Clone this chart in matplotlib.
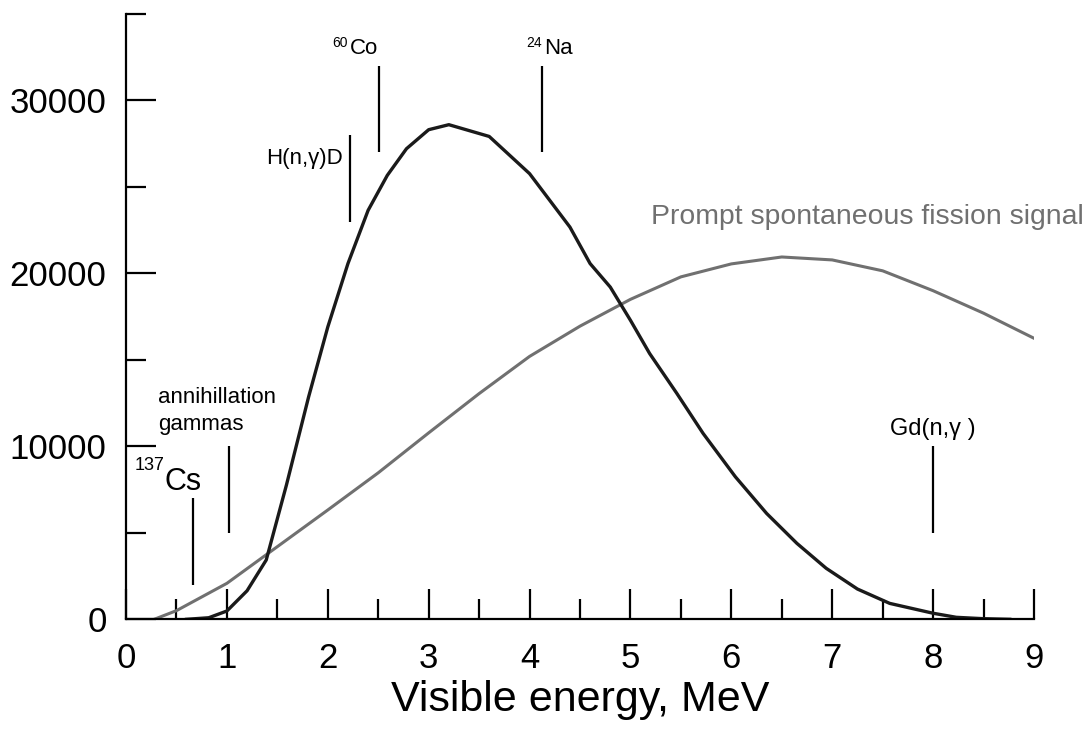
import numpy as np
import matplotlib
matplotlib.use('Agg')
import matplotlib.pyplot as plt
from matplotlib.ticker import MultipleLocator

plt.rcParams['font.family'] = ['Liberation Sans', 'DejaVu Sans']

# measured detector response (black) and prompt fission signal (grey)
E_resp = [0.60, 0.82, 1.0, 1.2, 1.39, 1.59, 1.81, 2.0, 2.2, 2.4, 2.59, 2.78, 3.0, 3.2, 3.6, 4.0,
          4.4, 4.6, 4.8, 5.0, 5.19, 5.46, 5.72, 6.04, 6.35, 6.65, 6.94, 7.25, 7.57, 8.0, 8.23, 8.5, 8.76]
N_resp = [0, 90, 480, 1650, 3430, 7760, 12860, 16900, 20570, 23650, 25670, 27210, 28310, 28600, 27920, 25770,
          22680, 20570, 19210, 17290, 15370, 13060, 10750, 8240, 6120, 4390, 2950, 1750, 920, 350, 115, 35, 0]

E_fis = [0.28, 0.5, 1.0, 1.5, 2.0, 2.5, 3.0, 3.5, 4.0, 4.5, 5.0, 5.5, 6.0, 6.5, 7.0, 7.5, 8.0, 8.5, 9.0]
N_fis = [0, 500, 2080, 4200, 6320, 8470, 10780, 13050, 15200, 16950, 18500, 19800, 20550, 20950, 20780, 20150,
         19000, 17700, 16250]

# calibration lines: energy, bottom, top
line_E = [0.662, 1.022, 2.224, 2.505, 4.12, 8.0]
line_lo = [2000, 5000, 23000, 27000, 27000, 5000]
line_hi = [7000, 10000, 28000, 32000, 32000, 10000]

fig = plt.figure(figsize=(10.88, 7.31), dpi=100)
ax = fig.add_axes([126/1088, (731-619.3)/731, 908/1088, (619.3-14)/731])

ax.plot(E_fis, N_fis, '-', color='#707070', lw=2.2, solid_joinstyle='round')
ax.plot(E_resp, N_resp, '-', color='#1a1a1a', lw=2.4, solid_joinstyle='round')
ax.vlines(line_E, line_lo, line_hi, color='k', lw=1.6)

ax.set_xlim(0, 9)
ax.set_ylim(0, 35000)
ax.spines['top'].set_visible(False)
ax.spines['right'].set_visible(False)
ax.spines['left'].set_linewidth(1.6)
ax.spines['bottom'].set_linewidth(1.6)
ax.xaxis.set_major_locator(MultipleLocator(1))
ax.xaxis.set_minor_locator(MultipleLocator(0.5))
ax.yaxis.set_major_locator(MultipleLocator(10000))
ax.yaxis.set_minor_locator(MultipleLocator(5000))
ax.tick_params(which='both', direction='in', width=1.6, labelsize=25, colors='k')
ax.tick_params(which='major', length=21.6)
ax.tick_params(which='minor', length=14.4)
ax.tick_params(axis='y', pad=14)
ax.tick_params(axis='x', pad=16)
for t in ax.xaxis.get_major_ticks() + ax.yaxis.get_major_ticks():
    t.tick1line.set_clip_on(False)
ax.set_xlabel('Visible energy, MeV', fontsize=31, labelpad=4)

ax.text(0.377, 7470, 'Cs', fontsize=22, va='baseline', ha='left')
ax.text(0.089, 9390, '137', fontsize=13, va='top', ha='left')
ax.text(0.314, 12500, 'annihillation', fontsize=16, va='baseline')
ax.text(0.314, 10940, 'gammas', fontsize=16, va='baseline')
ax.text(2.15, 26340, 'H(n,γ)D', fontsize=16, va='baseline', ha='right')
ax.text(2.215, 32700, 'Co', fontsize=16, va='baseline')
ax.text(2.04, 33750, '60', fontsize=10, va='top')
ax.text(4.14, 32700, 'Na', fontsize=16, va='baseline')
ax.text(3.97, 33750, '24', fontsize=10, va='top')
ax.text(8.0, 10650, 'Gd(n,γ )', fontsize=17, va='baseline', ha='center')
ax.text(5.20, 22880, 'Prompt spontaneous fission signal', fontsize=20.4, va='baseline', color='#707070')

fig.savefig('out.png', dpi=100)
